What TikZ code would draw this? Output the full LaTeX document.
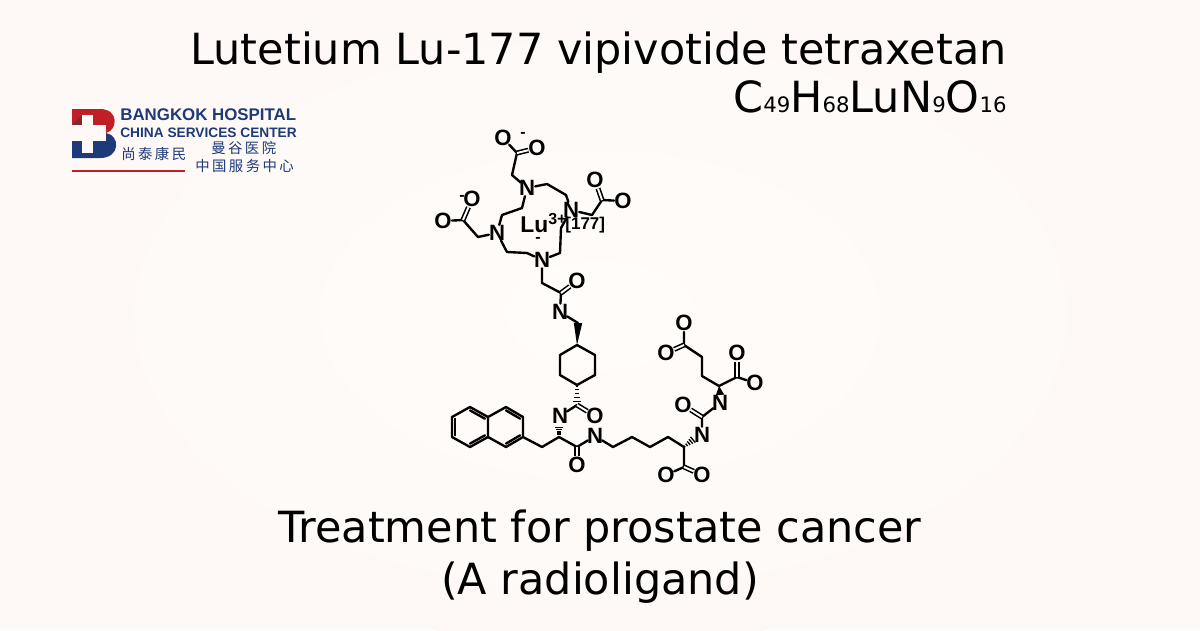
\documentclass[tikz,border=0pt]{standalone}
\usepackage{fontspec}
\setmainfont{DejaVu Sans}
\newfontfamily\atomfont{Liberation Sans}
\newfontfamily\cjkfont{Noto Sans CJK SC}
\usepackage{xcolor}
\usetikzlibrary{calc}
\definecolor{paper}{HTML}{FEF9F6}
\definecolor{paperlight}{HTML}{FFFCFA}
\definecolor{logoblue}{HTML}{1E3A78}
\definecolor{logored}{HTML}{BE2026}
\definecolor{logodark}{HTML}{7E2A2A}
\tikzset{
 atom/.style={circle,inner sep=-1.2pt,font=\atomfont\fontsize{12.6}{13}\selectfont\bfseries},
 charge/.style={inner sep=0,font=\atomfont\bfseries\fontsize{9}{9}\selectfont},
 bond/.style={line width=1.35pt,line cap=round,line join=round},
 dbl/.style={line width=0.9pt,double,double distance=1.1pt},
 title/.style={font=\fontsize{24.45}{26}\selectfont,inner sep=0},
 logotext/.style={text=logoblue,inner sep=0},
 logocjk/.style={font=\cjkfont\fontsize{8.2}{9}\selectfont,text=logoblue,inner sep=0}
}
% wedge and hashed bonds, narrow end first
\newcommand{\wedgebond}[2]{\fill (#1) -- ($(#2)!2.4pt!90:(#1)$) -- ($(#2)!2.4pt!-90:(#1)$) -- cycle;}
\newcommand{\hashbond}[2]{\foreach \t/\w in {0.05/0.5pt,0.24/0.9pt,0.43/1.3pt,0.62/1.7pt,0.81/2.1pt,1/2.5pt}
 {\coordinate (hh) at ($(#1)!\t!(#2)$); \draw[line width=0.75pt] ($(hh)!\w!90:(#2)$) -- ($(hh)!\w!-90:(#2)$);}}
% inner line of a ring bond
\newcommand{\ringbond}[3]{\draw[bond] ($(#1)!0.17!(#3)$) -- ($(#2)!0.17!(#3)$);}
\newcommand{\sub}[1]{{\fontsize{12.1}{13}\selectfont #1}}
\begin{document}
\begin{tikzpicture}[x=0.02cm,y=-0.02cm]
 \useasboundingbox (0,0) rectangle (1200,630);
 \fill[paper] (0,0) rectangle (1200,630);
 \shade[inner color=paperlight,outer color=paper,draw=none] (600,315) ellipse (560 and 330);
 % texts
 \node[title,anchor=base east] (name) at (1007,64) {Lutetium Lu-177 vipivotide tetraxetan};
 \node[title,anchor=base east] (formula) at (1007,112) {C\sub{49}H\sub{68}LuN\sub{9}O\sub{16}};
 \node[title,anchor=base] (use) at (600,542) {Treatment for prostate cancer};
 \node[title,anchor=base] (kind) at (600,594) {(A radioligand)};
 % logo
 \fill[logored] (72,109) -- (100,109) .. controls (119,109) and (118,130) .. (106,133) -- (72,133) -- cycle;
 \fill[logoblue] (72,133) -- (106,133) .. controls (120,135) and (121,158) .. (100,158) -- (72,158) -- cycle;
 \fill[logodark] (82,115) -- (72,125) -- (82,125) -- cycle;
 \fill[paper] (82,115) rectangle (93,153);
 \fill[paper] (72,125) rectangle (106,141);
 \draw[logored,line width=0.8pt] (72,171) -- (185,171);
 \node[logotext,anchor=west,font=\atomfont\bfseries\fontsize{9.6}{10}\selectfont] (bkk) at (120,115) {BANGKOK HOSPITAL};
 \node[logotext,anchor=west,font=\atomfont\bfseries\fontsize{7.8}{8}\selectfont] (csc) at (120,132.5) {CHINA SERVICES CENTER};
 \node[logocjk,anchor=west] (cn1) at (121,154) {尚\,泰\,康\,民};
 \node[logocjk,anchor=west] (cn2) at (211,148) {曼\,谷\,医\,院};
 \node[logocjk,anchor=west] (cn3) at (195,166) {中\,国\,服\,务\,中\,心};
 % chelator
 \node[atom] (n1) at (527,188) {N};
 \node[atom] (n2) at (571,210) {N};
 \node[atom] (n3) at (497,233) {N};
 \node[atom] (n4) at (542,260) {N};
 \coordinate (r1) at (547,184);
 \coordinate (r2) at (566,195);
 \coordinate (r3) at (522,208);
 \coordinate (r4) at (502,215);
 \coordinate (r5) at (507,252);
 \coordinate (r6) at (527,253);
 \coordinate (r7) at (560,253);
 \coordinate (r8) at (561,228);
 \draw[bond] (n1) -- (r1) -- (r2) -- (n2);
 \draw[bond] (n1) -- (r3) -- (r4) -- (n3);
 \draw[bond] (n3) -- (r5) -- (r6) -- (n4);
 \draw[bond] (n4) -- (r7) -- (r8) -- (n2);
 \node[atom] (o1) at (503,138) {O};
 \node[atom] (o2) at (537,148) {O};
 \coordinate (c1) at (517,153);
 \coordinate (c2) at (512,175);
 \node[charge] (q1) at (523,135) {-};
 \draw[bond] (n1) -- (c2) -- (c1) -- (o1);
 \draw[dbl] (c1) -- (o2);
 \node[atom] (o3) at (595,180) {O};
 \node[atom] (o4) at (623,201) {O};
 \coordinate (c3) at (602,200);
 \coordinate (c4) at (592,215);
 \draw[bond] (n2) -- (c4) -- (c3) -- (o4);
 \draw[dbl] (c3) -- (o3);
 \node[atom] (o5) at (443,221) {O};
 \node[atom] (o6) at (472,199) {O};
 \coordinate (c5) at (463,220);
 \coordinate (c6) at (478,237);
 \node[charge] (q2) at (462,198) {-};
 \draw[bond] (n3) -- (c6) -- (c5) -- (o5);
 \draw[dbl] (c5) -- (o6);
 \node[charge,anchor=base west,font=\atomfont\bfseries\fontsize{13}{13}\selectfont] (lu) at (520,232)
  {Lu\textsuperscript{3+}};
 \node[charge,anchor=base west,font=\atomfont\bfseries\fontsize{9.7}{10}\selectfont] (iso) at (565,229) {[177]};
 \node[charge] (q3) at (538,240) {-};
 % linker
 \node[atom] (o7) at (577,281) {O};
 \node[atom] (n5) at (560,312) {N};
 \coordinate (c7) at (542,283);
 \coordinate (c8) at (561,293);
 \coordinate (c9) at (578,323);
 \draw[bond] (n4) -- (c7) -- (c8) -- (n5);
 \draw[dbl] (c8) -- (o7);
 \draw[bond] (n5) -- (c9);
 % cyclohexane
 \coordinate (h1) at (577,345);
 \coordinate (h2) at (595,355);
 \coordinate (h3) at (595,375);
 \coordinate (h4) at (577,385);
 \coordinate (h5) at (560,375);
 \coordinate (h6) at (560,355);
 \draw[bond] (h1) -- (h2) -- (h3) -- (h4) -- (h5) -- (h6) -- cycle;
 \wedgebond{h1}{c9}
 \coordinate (c10) at (577,405);
 \hashbond{h4}{c10}
 \node[atom] (o8) at (595,416) {O};
 \node[atom] (n6) at (560,416) {N};
 \draw[bond] (c10) -- (n6);
 \draw[dbl] (c10) -- (o8);
 % naphthyl arm
 \coordinate (c11) at (559,437);
 \coordinate (c12) at (542,447);
 \coordinate (c13) at (577,447);
 \coordinate (c14) at (559,425);
 \node[atom] (o9) at (577,465) {O};
 \node[atom] (n7) at (595,436) {N};
 \hashbond{c11}{c14}
 \draw[bond] (c13) -- (c11) -- (c12);
 \draw[bond] (c13) -- (n7);
 \draw[dbl] (c13) -- (o9);
 \coordinate (a1) at (523,437);
 \coordinate (a2) at (523,417);
 \coordinate (a3) at (506,407);
 \coordinate (a4) at (488,417);
 \coordinate (a5) at (488,437);
 \coordinate (a6) at (506,447);
 \coordinate (a7) at (470,407);
 \coordinate (a8) at (452,417);
 \coordinate (a9) at (452,437);
 \coordinate (a10) at (470,447);
 \coordinate (ra) at (506,427);
 \coordinate (rb) at (470,427);
 \draw[bond] (c12) -- (a1) -- (a2) -- (a3) -- (a4) -- (a5) -- (a6) -- (a1);
 \draw[bond] (a4) -- (a7) -- (a8) -- (a9) -- (a10) -- (a5);
 \ringbond{a2}{a3}{ra}
 \ringbond{a1}{a6}{ra}
 \ringbond{a4}{a7}{rb}
 \ringbond{a8}{a9}{rb}
 \ringbond{a10}{a5}{rb}
 % lysine chain
 \coordinate (k1) at (613,447);
 \coordinate (k2) at (632,437);
 \coordinate (k3) at (650,447);
 \coordinate (k4) at (668,437);
 \coordinate (k5) at (684,447);
 \coordinate (k6) at (684,467);
 \coordinate (k7) at (695,438);
 \node[atom] (o10) at (666,475) {O};
 \node[atom] (o11) at (702,475) {O};
 \node[atom] (n8) at (702,435) {N};
 \draw[bond] (n7) -- (k1) -- (k2) -- (k3) -- (k4) -- (k5) -- (k6) -- (o10);
 \draw[dbl] (k6) -- (o11);
 \hashbond{k5}{k7}
 % urea and glutamate
 \coordinate (u1) at (702,417);
 \node[atom] (o12) at (683,405) {O};
 \node[atom] (n9) at (720,403) {N};
 \draw[bond] (n8) -- (u1) -- (n9);
 \draw[dbl] (u1) -- (o12);
 \coordinate (g1) at (719,386);
 \coordinate (g2) at (737,377);
 \coordinate (g3) at (702,376);
 \coordinate (g4) at (702,357);
 \coordinate (g5) at (684,345);
 \coordinate (g6) at (720,395);
 \node[atom] (o13) at (737,353) {O};
 \node[atom] (o14) at (755,383) {O};
 \node[atom] (o15) at (684,323) {O};
 \node[atom] (o16) at (666,353) {O};
 \wedgebond{g1}{g6}
 \draw[bond] (g2) -- (g1) -- (g3) -- (g4) -- (g5) -- (o15);
 \draw[bond] (g2) -- (o14);
 \draw[dbl] (g2) -- (o13);
 \draw[dbl] (g5) -- (o16);
\end{tikzpicture}
\end{document}
